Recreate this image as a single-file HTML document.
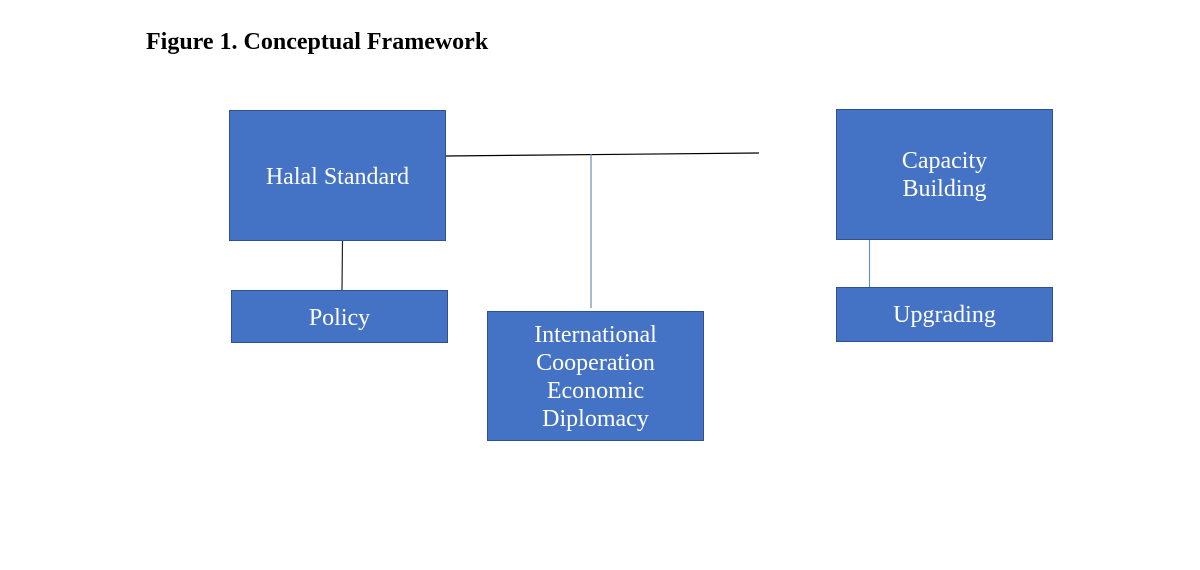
<!DOCTYPE html>
<html><head><style>
body{margin:0;width:1200px;height:570px;background:#fff;position:relative;overflow:hidden;font-family:"Liberation Serif",serif}
.t{position:absolute;left:146px;top:29px;font-weight:bold;font-size:24px;color:#000}
.b{position:absolute;box-sizing:border-box;background:#4472c4;border:1.5px solid #2f528f;color:#fff;font-size:24px;line-height:28px;text-align:center;display:flex;align-items:center;justify-content:center}
</style></head><body>
<div class="t">Figure 1. Conceptual Framework</div>
<svg width="1200" height="570" style="position:absolute;left:0;top:0">
<line x1="446" y1="156" x2="759" y2="153" stroke="#000" stroke-width="1.2"/>
<line x1="591" y1="154" x2="591" y2="308" stroke="#6f8bb8" stroke-width="1.2"/>
<line x1="342.5" y1="241" x2="342" y2="290" stroke="#222" stroke-width="1.2"/>
<line x1="869.5" y1="240" x2="869.5" y2="287" stroke="#6f8bb8" stroke-width="1.2"/>
</svg>
<div class="b" style="left:229px;top:110px;width:217px;height:131px;padding-top:2px">Halal Standard</div>
<div class="b" style="left:231px;top:290px;width:217px;height:53px;padding-top:2px">Policy</div>
<div class="b" style="left:487px;top:311px;width:217px;height:130px;padding-top:2px">International<br>Cooperation<br>Economic<br>Diplomacy</div>
<div class="b" style="left:836px;top:109px;width:217px;height:131px">Capacity<br>Building</div>
<div class="b" style="left:836px;top:287px;width:217px;height:55px;padding-top:1px">Upgrading</div>
</body></html>
